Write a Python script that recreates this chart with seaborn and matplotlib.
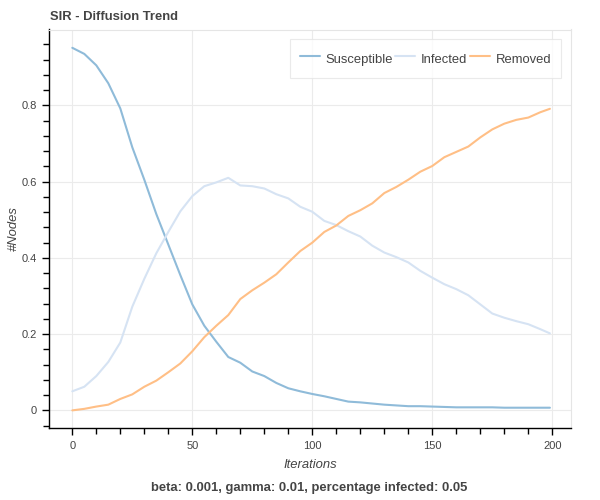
import numpy as np
import pandas as pd
import matplotlib
matplotlib.use("Agg")
import matplotlib.pyplot as plt
from matplotlib.ticker import MultipleLocator
import seaborn as sns

iterations = [0, 5, 10, 15, 20, 25, 30, 35, 40, 45, 50, 55, 60, 65, 70, 75, 80, 85, 90, 95,
              100, 105, 110, 115, 120, 125, 130, 135, 140, 145, 150, 155, 160, 165, 170,
              175, 180, 185, 190, 195, 199]

susceptible = [0.951, 0.935, 0.905, 0.858, 0.792, 0.690, 0.605, 0.515, 0.435, 0.355, 0.278,
               0.222, 0.180, 0.140, 0.125, 0.102, 0.090, 0.072, 0.058, 0.050, 0.043, 0.037,
               0.030, 0.023, 0.021, 0.018, 0.015, 0.013, 0.011, 0.011, 0.010, 0.009, 0.008,
               0.008, 0.008, 0.008, 0.007, 0.007, 0.007, 0.007, 0.007]

infected = [0.050, 0.062, 0.090, 0.127, 0.178, 0.272, 0.345, 0.412, 0.468, 0.522, 0.562,
            0.588, 0.598, 0.610, 0.590, 0.588, 0.582, 0.567, 0.556, 0.534, 0.521, 0.497,
            0.486, 0.470, 0.456, 0.432, 0.414, 0.402, 0.388, 0.366, 0.348, 0.331, 0.318,
            0.302, 0.278, 0.254, 0.243, 0.234, 0.226, 0.213, 0.202]

removed = [0.000, 0.004, 0.010, 0.015, 0.030, 0.042, 0.062, 0.078, 0.100, 0.123, 0.155,
           0.192, 0.222, 0.250, 0.292, 0.315, 0.335, 0.357, 0.388, 0.418, 0.440, 0.468,
           0.485, 0.510, 0.525, 0.543, 0.570, 0.586, 0.605, 0.626, 0.641, 0.664, 0.678,
           0.692, 0.716, 0.737, 0.752, 0.762, 0.768, 0.782, 0.791]

status = ["Susceptible", "Infected", "Removed"]
colors = ["#8fbbd9", "#d6e3f3", "#ffbf86"]

df = pd.DataFrame({
    "Iterations": iterations * 3,
    "value": susceptible + infected + removed,
    "status": [s for s in status for _ in iterations],
})

sns.set_style("white")
plt.rcParams["font.family"] = ["Liberation Sans", "DejaVu Sans"]

fig = plt.figure(figsize=(6, 5), dpi=100)
# frame: x 49..571 px, y 29.5..428.3 px
ax = fig.add_axes([0.0817, 0.1434, 0.87, 0.7976])

sns.lineplot(data=df, x="Iterations", y="value", hue="status", palette=colors,
             linewidth=1.5, ax=ax)

ax.set_xlim(-9.7, 207.8)
ax.set_ylim(-0.047, 0.999)
ax.xaxis.set_major_locator(MultipleLocator(50))
ax.xaxis.set_minor_locator(MultipleLocator(10))
ax.yaxis.set_minor_locator(MultipleLocator(0.04))
ax.set_yticks([0, 0.2, 0.4, 0.6, 0.8])
ax.set_yticklabels(["0", "0.2", "0.4", "0.6", "0.8"])

ax.grid(True, which="major", color="#ebebeb", linewidth=0.8)
for side in ["top", "right"]:
    ax.spines[side].set_color("#e5e5e5")
    ax.spines[side].set_linewidth(0.8)
for side in ["left", "bottom"]:
    ax.spines[side].set_color("black")
    ax.spines[side].set_linewidth(1.0)
ax.tick_params(which="major", direction="out", length=5, width=1, color="black",
               labelsize=8, labelcolor="#444444", left=True, bottom=True, pad=4)
ax.tick_params(which="minor", direction="out", length=4, width=1, color="black",
               left=True, bottom=True)

ax.set_xlabel("Iterations", fontsize=9.4, style="italic", color="#444444", labelpad=6)
ax.set_ylabel("#Nodes", fontsize=9.4, style="italic", color="#444444")
ax.yaxis.set_label_coords(-0.056, 0.5)

fig.text(50 / 600, 1 - 17 / 500, "SIR - Diffusion Trend", fontsize=9.4, fontweight="bold",
         color="#444444", va="center")
fig.text(309 / 600, 1 - 487.7 / 500, "beta: 0.001, gamma: 0.01, percentage infected: 0.05",
         fontsize=9.4, fontweight="bold", color="#444444", ha="center", va="center")

leg = ax.legend(ncol=3, loc="upper right", bbox_to_anchor=(0.981, 0.975), borderaxespad=0,
                frameon=True, fontsize=9.4, handlelength=1.55, handleheight=1.8,
                handletextpad=0.45, columnspacing=0.15, borderpad=0.75, fancybox=False)
leg.get_frame().set_edgecolor("#e5e5e5")
leg.get_frame().set_linewidth(0.8)
for t in leg.get_texts():
    t.set_color("#444444")

fig.savefig("out.png", dpi=100)
